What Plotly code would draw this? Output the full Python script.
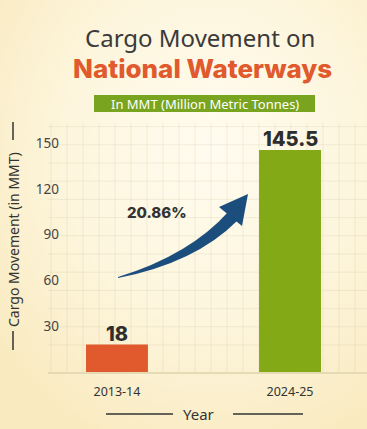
import plotly.graph_objects as go

years = ["2013-14", "2024-25"]
cargo = [18, 145.5]
bar_colors = ["#e05a2e", "#84a916"]
y_ticks = [30, 60, 90, 120, 150]
growth_label = "20.86%"

W, H = 367, 429
L, R, T, B = 64, 10, 130, 57
PW, PH = W - L - R, H - T - B


def px(x, y):
    return (x - L) / PW, (H - B - y) / PH


def pstr(x, y):
    a, b = px(x, y)
    return f"{a:.4f},{b:.4f}"


fig = go.Figure()
fig.add_trace(go.Bar(
    x=years, y=cargo, marker=dict(color=bar_colors, line=dict(width=0)),
    width=0.358, hoverinfo="skip",
))

shapes = []
# background graph-paper grid
gx = [51 + 16 * k for k in range(20) if 51 + 16 * k < W]
gy = [345 - 18.2 * k for k in range(14) if 345 - 18.2 * k > 122]
for x in gx:
    a, _ = px(x, 0)
    shapes.append(dict(type="line", xref="paper", yref="paper", x0=a, x1=a,
                       y0=px(0, 372)[1], y1=px(0, 122)[1],
                       line=dict(color="rgba(200,190,160,0.22)", width=1), layer="below"))
for y in gy:
    _, b = px(0, y)
    shapes.append(dict(type="line", xref="paper", yref="paper", x0=px(48, 0)[0], x1=px(W, 0)[0],
                       y0=b, y1=b,
                       line=dict(color="rgba(200,190,160,0.22)", width=1), layer="below"))
# baseline
shapes.append(dict(type="line", xref="paper", yref="paper", x0=px(48, 0)[0], x1=px(W, 0)[0],
                   y0=px(0, 373)[1], y1=px(0, 373)[1], line=dict(color="#e6dab5", width=2)))
# banner
x0, y0 = px(94, 112)
x1, y1 = px(315, 95)
shapes.append(dict(type="rect", xref="paper", yref="paper", x0=x0, y0=y0, x1=x1, y1=y1,
                   fillcolor="#79a420", line=dict(width=0)))
# arrow
shaft = (f"M {pstr(118,277)} Q {pstr(190,255)} {pstr(229,211)} "
         f"L {pstr(237,221)} Q {pstr(195,263)} {pstr(118,278)} Z")
head = f"M {pstr(219,207)} L {pstr(248,194)} L {pstr(242,226)} Z"
for p in (shaft, head):
    shapes.append(dict(type="path", xref="paper", yref="paper", path=p,
                       fillcolor="#1c4e7d", line=dict(width=0)))
# y title dashes
for ya, yb in ((122, 140), (331, 350)):
    shapes.append(dict(type="line", xref="paper", yref="paper", x0=px(13, 0)[0], x1=px(13, 0)[0],
                       y0=px(0, ya)[1], y1=px(0, yb)[1], line=dict(color="#333333", width=1.5)))
# Year dashes
for xa, xb in ((106, 173), (233, 303)):
    shapes.append(dict(type="line", xref="paper", yref="paper", x0=px(xa, 0)[0], x1=px(xb, 0)[0],
                       y0=px(0, 414)[1], y1=px(0, 414)[1], line=dict(color="#333333", width=1.5)))

ann = []


def text(x, y, s, size, color="#333333", family="Noto Sans", weight="normal", angle=0):
    a, b = px(x, y)
    ann.append(dict(xref="paper", yref="paper", x=a, y=b, text=s, showarrow=False,
                    xanchor="center", yanchor="middle", textangle=angle,
                    font=dict(size=size, color=color, family=family, weight=weight)))


text(200, 37, "Cargo Movement on", 24, color="#3a3a3a", family="Noto Sans")
text(202, 68, "National Waterways", 26, color="#e05a2e", family="Inter", weight=800)
text(204.5, 103.5, "In MMT (Million Metric Tonnes)", 13, color="white", family="Noto Sans")
text(157, 212, growth_label, 15, color="#333333", family="Inter", weight=800)
text(13, 240, "Cargo Movement (in MMT)", 14, color="#333333", family="Noto Sans", angle=-90)
text(198, 414, "Year", 15, color="#333333", family="Noto Sans")

for yr, v in zip(years, cargo):
    ann.append(dict(x=yr, y=v, xref="x", yref="y", text=f"{v:g}", showarrow=False,
                    yanchor="bottom", yshift=-3,
                    font=dict(size=20, color="#2e2e2e", family="Inter", weight=800)))

bg_svg = ("data:image/svg+xml;utf8,<svg xmlns='http://www.w3.org/2000/svg' width='367' height='429'>"
          "<defs><radialGradient id='g' cx='0.58' cy='0.35' r='0.75'>"
          "<stop offset='0' stop-color='%23fffcf0'/><stop offset='0.55' stop-color='%23fdf5dc'/>"
          "<stop offset='1' stop-color='%23f9eabf'/></radialGradient></defs>"
          "<rect width='367' height='429' fill='url(%23g)'/></svg>")

fig.update_layout(
    width=W, height=H, margin=dict(l=L, r=R, t=T, b=B),
    paper_bgcolor="#fcf2d4", plot_bgcolor="rgba(0,0,0,0)",
    showlegend=False, shapes=shapes, annotations=ann,
    images=[dict(source=bg_svg, xref="paper", yref="paper", x=px(0, 0)[0], y=px(0, 0)[1],
                 sizex=W / PW, sizey=H / PH, xanchor="left", yanchor="top",
                 sizing="stretch", layer="below")],
    xaxis=dict(type="category", range=[-0.306, 1.387], showgrid=False, showline=False,
               zeroline=False, ticks="", ticklabelstandoff=10,
               tickfont=dict(size=12.5, color="#333333", family="Noto Sans")),
    yaxis=dict(range=[0, PH / 1.525], tickvals=y_ticks, showgrid=False, showline=False,
               zeroline=False, ticks="", ticklabelstandoff=4,
               tickfont=dict(size=13.5, color="#444444", family="Noto Sans")),
)

fig.write_html("out.html", config={"displayModeBar": False},
               post_script="document.body.style.margin='0';document.body.style.overflow='hidden';")
